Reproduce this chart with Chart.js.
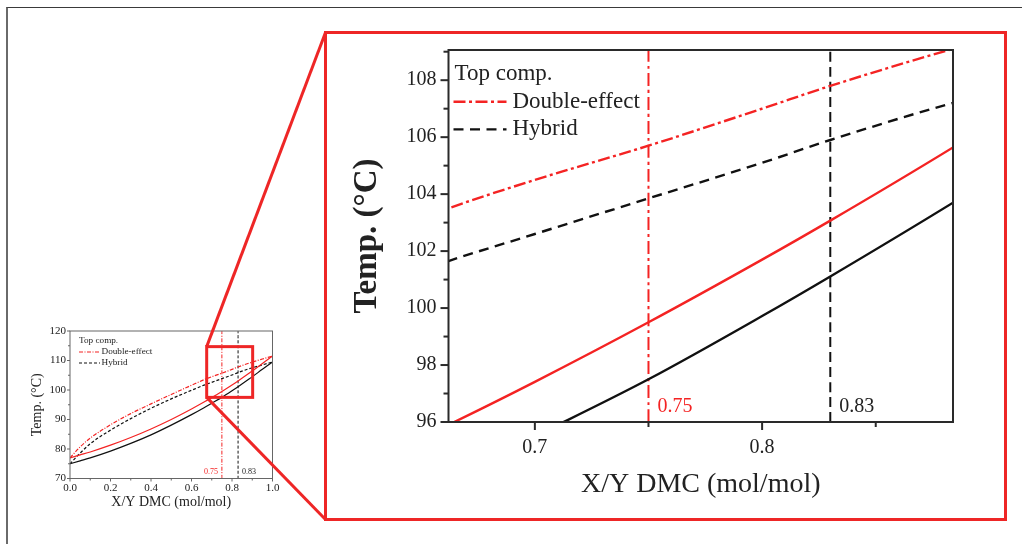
<!DOCTYPE html>
<html lang="en">
<head>
  <meta charset="UTF-8">
  <title>Temp. vs X/Y DMC - zoom</title>
  <script src="https://cdn.jsdelivr.net/npm/chart.js"></script>
  <style>
    body { margin: 0; background: #fff; }
    #page { position: relative; width: 1022px; height: 544px; overflow: hidden; background: #fff; }
    canvas { position: absolute; left: 0; top: 0; }
    #frame { position: absolute; left: 6px; top: 7px; width: 1100px; height: 600px;
             border-top: 1.5px solid #3a3a3a; border-left: 2px solid #6a6a6a; }
    #zoomBox { position: absolute; left: 324px; top: 31px; width: 683px; height: 490px;
               box-sizing: border-box; border: 3px solid #ee2626; }
  </style>
</head>
<body>
<div id="page">
  <div id="frame"></div>
  <canvas id="smallChart" width="1022" height="544"></canvas>
  <div id="zoomBox"></div>
  <canvas id="bigChart" width="1022" height="544"></canvas>
</div>

<script>
  // composition (mol/mol) and temperatures (C)
  const xDMC          = [0, 0.05, 0.1, 0.2, 0.3, 0.4, 0.5, 0.6, 0.662, 0.7, 0.75, 0.8, 0.83, 0.884, 0.95, 1.0];
  const tDoubleBubble = [77.0, 78.0, 79.0, 81.3, 83.9, 86.8, 90.0, 93.55, 95.9, 97.41, 99.5, 101.7, 103.07, 105.64, 108.95, 111.5];
  const tHybridBubble = [75.0, 76.0, 77.0, 79.3, 81.9, 84.8, 88.1, 91.65, 94.0, 95.5, 97.5, 99.72, 101.11, 103.7, 107.0, 109.5];
  const tDoubleDew    = [77.0, 80.7, 83.7, 88.2, 92.0, 95.3, 98.5, 101.6, 103.5, 104.5, 105.7, 107.0, 107.8, 109.1, 110.5, 111.5];
  const tHybridDew    = [75.0, 78.6, 81.8, 86.4, 90.3, 93.8, 97.0, 99.9, 101.65, 102.6, 103.85, 105.1, 105.9, 107.2, 108.5, 109.5];

  // top compositions marked with vertical lines
  const markX      = [0.75, 0.83];
  const markLabels = ['0.75', '0.83'];

  const legendTitle  = 'Top comp.';
  const legendLabels = ['Double-effect', 'Hybrid'];

  // overview chart axes
  const smallXRange  = [0, 1];
  const smallYRange  = [70, 120];
  const smallXTicks  = [0, 0.1, 0.2, 0.3, 0.4, 0.5, 0.6, 0.7, 0.8, 0.9, 1.0];
  const smallXLabels = ['0.0', '', '0.2', '', '0.4', '', '0.6', '', '0.8', '', '1.0'];
  const smallYTicks  = [70, 75, 80, 85, 90, 95, 100, 105, 110, 115, 120];
  const smallYLabels = ['70', '', '80', '', '90', '', '100', '', '110', '', '120'];

  // zoomed chart axes
  const bigXRange  = [0.662, 0.884];
  const bigYRange  = [96, 109.06];
  const bigXTicks  = [0.7, 0.75, 0.8, 0.85];
  const bigXLabels = ['0.7', '', '0.8', ''];
  const bigYTicks  = [96, 97, 98, 99, 100, 101, 102, 103, 104, 105, 106, 107, 108, 109];
  const bigYLabels = ['96', '', '98', '', '100', '', '102', '', '104', '', '106', '', '108', ''];

  // zoom rectangle as drawn on the overview
  const zoomRectX = [0.675, 0.902];
  const zoomRectY = [97.5, 114.7];

  const FONT = "'Liberation Serif', 'Times New Roman', serif";
  const RED = '#f42323';
  const BOX_RED = '#ee2626';
  Chart.defaults.font.family = FONT;
  Chart.defaults.color = '#222';

  function pts(xs, ys) {
    return xs.map((x, i) => ({ x: x, y: ys[i] }));
  }

  function line(ctx, x1, y1, x2, y2) {
    ctx.beginPath();
    ctx.moveTo(x1, y1);
    ctx.lineTo(x2, y2);
    ctx.stroke();
  }

  function datasets(st, yRange) {
    const base = { showLine: true, pointRadius: 0, fill: false, tension: 0.4, cubicInterpolationMode: 'monotone' };
    const sets = [
      { ...base, data: pts(xDMC, tDoubleBubble), borderColor: RED, borderWidth: st.w, borderDash: [] },
      { ...base, data: pts(xDMC, tHybridBubble), borderColor: '#111', borderWidth: st.w, borderDash: [] },
      { ...base, data: pts(xDMC, tDoubleDew), borderColor: RED, borderWidth: st.w, borderDash: st.dashDot },
      { ...base, data: pts(xDMC, tHybridDew), borderColor: '#111', borderWidth: st.w, borderDash: st.dash }
    ];
    // vertical markers
    const markColors = [RED, '#111'];
    const markDash = [st.vDashDot, st.vDash];
    markX.forEach((mx, i) => {
      sets.push({ ...base, tension: 0, data: pts([mx, mx], yRange),
                  borderColor: markColors[i], borderWidth: st.vw, borderDash: markDash[i] });
    });
    return sets;
  }

  function axis(range, values, labels, fit, tk, title) {
    return {
      type: 'linear',
      min: range[0],
      max: range[1],
      afterBuildTicks: sc => { sc.ticks = values.map(v => ({ value: v })); },
      afterFit: fit,
      grid: { display: false, drawTicks: true, tickLength: tk.len },
      border: { display: false },
      ticks: { autoSkip: false, maxRotation: 0, padding: tk.pad, color: '#222',
               font: { size: tk.size }, callback: (v, i) => labels[i] },
      title: { display: true, text: title.text, color: '#222', padding: 0, font: title.font }
    };
  }

  // frame, tick marks, inside legend and marker labels
  const annot = {
    id: 'annot',
    afterDatasetsDraw(chart, args, o) {
      const { ctx, chartArea: a, scales: { x, y } } = chart;
      ctx.save();
      ctx.strokeStyle = o.frameColor;
      ctx.lineWidth = o.frameWidth;
      ctx.setLineDash([]);
      ctx.strokeRect(a.left, a.top, a.right - a.left, a.bottom - a.top);
      x.ticks.forEach(t => {
        const px = x.getPixelForValue(t.value);
        line(ctx, px, a.bottom, px, a.bottom + (t.label ? o.major : o.minor));
      });
      y.ticks.forEach(t => {
        const py = y.getPixelForValue(t.value);
        line(ctx, a.left, py, a.left - (t.label ? o.major : o.minor), py);
      });

      // legend
      const L = o.legend;
      ctx.font = L.size + 'px ' + FONT;
      ctx.textBaseline = 'middle';
      ctx.textAlign = 'left';
      ctx.fillStyle = '#222';
      ctx.fillText(legendTitle, a.left + L.dx, a.top + L.dy);
      legendLabels.forEach((lab, i) => {
        const ds = chart.data.datasets[2 + i];
        const yy = a.top + L.dy + (i + 1) * L.row;
        ctx.strokeStyle = ds.borderColor;
        ctx.lineWidth = ds.borderWidth;
        ctx.setLineDash(ds.borderDash);
        line(ctx, a.left + L.dx0, yy, a.left + L.dx0 + L.len, yy);
        ctx.setLineDash([]);
        ctx.fillText(lab, a.left + L.dx0 + L.len + L.gap, yy);
      });

      // marker labels
      const M = o.marks;
      ctx.font = M.size + 'px ' + FONT;
      markX.forEach((mx, i) => {
        ctx.fillStyle = i === 0 ? RED : '#222';
        ctx.textAlign = M.align[i];
        ctx.fillText(markLabels[i], x.getPixelForValue(mx) + M.off[i], a.bottom + M.dy);
      });

      // zoom rectangle + connectors to the zoom box
      if (o.zoom) {
        const x1 = x.getPixelForValue(zoomRectX[0]), x2 = x.getPixelForValue(zoomRectX[1]);
        const y1 = y.getPixelForValue(zoomRectY[1]), y2 = y.getPixelForValue(zoomRectY[0]);
        ctx.strokeStyle = BOX_RED;
        ctx.lineWidth = 3;
        ctx.strokeRect(x1, y1, x2 - x1, y2 - y1);
        const page = document.getElementById('page').getBoundingClientRect();
        const box = document.getElementById('zoomBox').getBoundingClientRect();
        const bx = box.left - page.left + 1.5;
        line(ctx, x1, y1, bx, box.top - page.top + 1.5);
        line(ctx, x1, y2, bx, box.bottom - page.top - 1.5);
      }
      ctx.restore();
    }
  };

  // overview chart (left)
  new Chart(document.getElementById('smallChart'), {
    type: 'scatter',
    data: {
      datasets: datasets({ w: 1.2, dashDot: [4, 1.5, 1, 1.5], dash: [3, 2],
                           vw: 1, vDashDot: [4, 1.5, 1, 1.5], vDash: [3, 2] }, smallYRange)
    },
    options: {
      responsive: false,
      animation: false,
      events: [],
      layout: { padding: { left: 29.1, top: 331, right: 749.5, bottom: 32.9 } },
      scales: {
        x: axis(smallXRange, smallXTicks, smallXLabels, sc => { sc.height = 32.6; },
                { len: 3, pad: 0, size: 11 }, { text: 'X/Y DMC (mol/mol)', font: { size: 14 } }),
        y: axis(smallYRange, smallYTicks, smallYLabels, sc => { sc.width = 40.9; },
                { len: 3, pad: 1, size: 11 }, { text: 'Temp. (°C)', font: { size: 14 } })
      },
      plugins: {
        legend: { display: false },
        tooltip: { enabled: false },
        annot: {
          frameColor: '#666', frameWidth: 1, major: 3, minor: 2,
          legend: { size: 9.2, dx: 9, dy: 10, row: 11, dx0: 9, len: 21, gap: 1.5 },
          marks: { size: 8, dy: -7, off: [-4, 4], align: ['right', 'left'] },
          zoom: true
        }
      }
    },
    plugins: [annot]
  });

  // zoomed chart (right)
  new Chart(document.getElementById('bigChart'), {
    type: 'scatter',
    data: {
      datasets: datasets({ w: 2.4, dashDot: [12, 3.5, 3, 3.5], dash: [10, 6.5],
                           vw: 2, vDashDot: [13, 4, 3, 4], vDash: [10, 5] }, bigYRange)
    },
    options: {
      responsive: false,
      animation: false,
      events: [],
      layout: { padding: { left: 347.6, top: 50, right: 69, bottom: 42.2 } },
      scales: {
        x: axis(bigXRange, bigXTicks, bigXLabels, sc => { sc.height = 79.8; },
                { len: 8, pad: 6, size: 20 }, { text: 'X/Y DMC (mol/mol)', font: { size: 28 } }),
        y: axis(bigYRange, bigYTicks, bigYLabels, sc => { sc.width = 100.9; },
                { len: 8, pad: 4, size: 20 }, { text: 'Temp. (°C)', font: { size: 33, weight: 'bold' } })
      },
      plugins: {
        legend: { display: false },
        tooltip: { enabled: false },
        annot: {
          frameColor: '#2a2a2a', frameWidth: 2, major: 8, minor: 5,
          legend: { size: 23, dx: 6, dy: 24, row: 27.7, dx0: 5, len: 53, gap: 6 },
          marks: { size: 20, dy: -15, off: [9, 9], align: ['left', 'left'] },
          zoom: false
        }
      }
    },
    plugins: [annot]
  });
</script>
</body>
</html>
